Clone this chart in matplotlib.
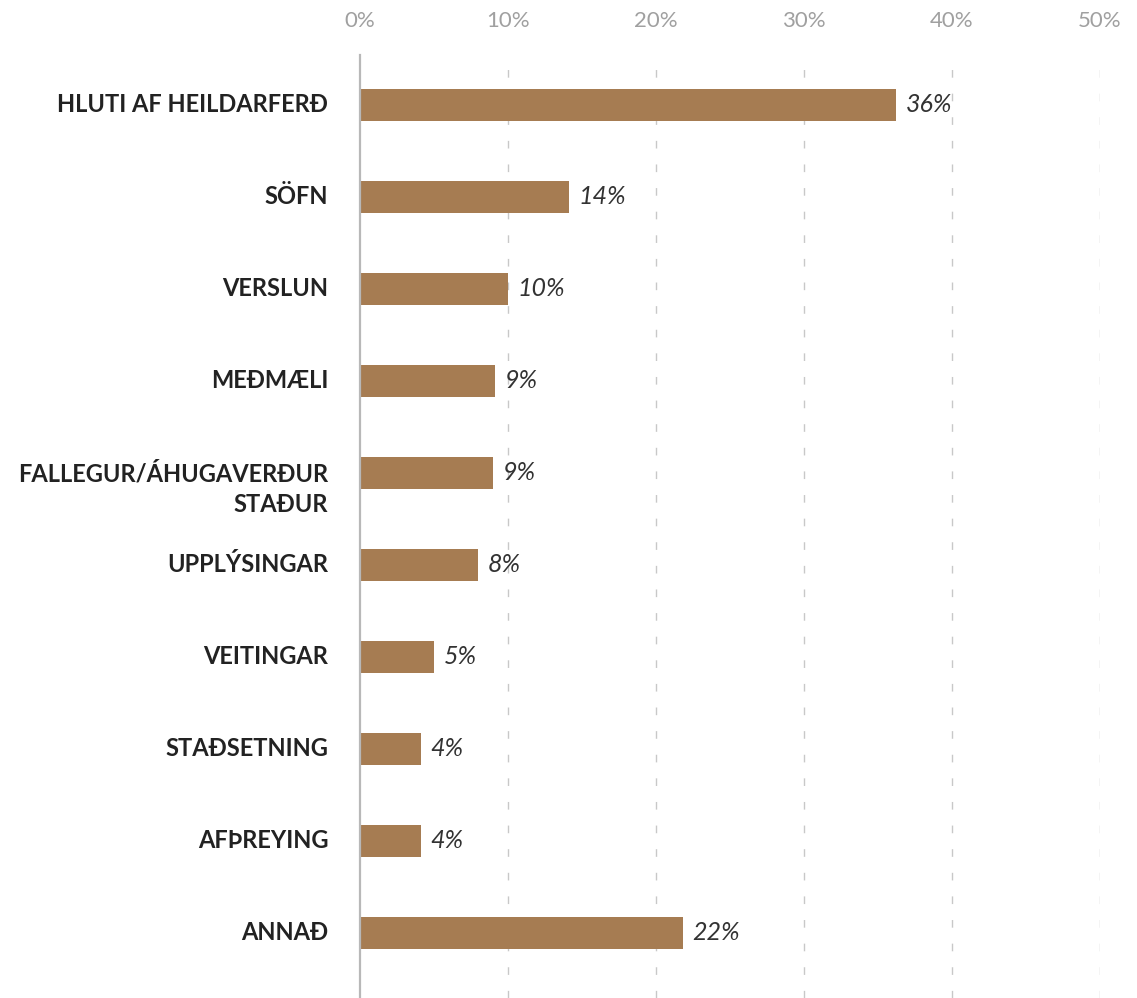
import matplotlib
matplotlib.use("Agg")
import matplotlib.pyplot as plt
import matplotlib.transforms as mtransforms

# Data
categories = [
    "HLUTI AF HEILDARFERÐ",
    "SÖFN",
    "VERSLUN",
    "MEÐMÆLI",
    "FALLEGUR/ÁHUGAVERÐUR\nSTAÐUR",
    "UPPLÝSINGAR",
    "VEITINGAR",
    "STAÐSETNING",
    "AFÞREYING",
    "ANNAÐ",
]
values = [36.2, 14.1, 10.0, 9.1, 9.0, 8.0, 5.0, 4.1, 4.1, 21.8]
value_labels = ["36%", "14%", "10%", "9%", "9%", "8%", "5%", "4%", "4%", "22%"]
xticks = [0, 10, 20, 30, 40, 50]

BAR_COLOR = "#a67c52"
FONT = ["Lato", "DejaVu Sans"]

fig = plt.figure(figsize=(11.37, 9.98), dpi=100)
ax = fig.add_axes([0.3166, 0.0, 0.9675 - 0.3166, 0.9449])

ypos = list(range(len(categories)))
ax.barh(ypos, values, height=0.35, color=BAR_COLOR, zorder=3)

ax.set_xlim(0, 50)
ax.set_ylim(9.707, -0.543)

# grid
for x in xticks[1:]:
    ax.axvline(x, color="#c8c8c8", lw=1.0, dashes=(5.5, 11.5), zorder=1)

# spines
for s in ["top", "right", "bottom"]:
    ax.spines[s].set_visible(False)
ax.spines["left"].set_color("#b8b8b8")
ax.spines["left"].set_linewidth(1.6)
ax.spines["left"].set_zorder(4)

# x ticks on top
ax.xaxis.tick_top()
ax.set_xticks(xticks)
ax.set_xticklabels([f"{x}%" for x in xticks], family=FONT, fontsize=16, color="#a0a0a0")
ax.tick_params(axis="x", length=0, pad=17)
ax.set_yticks([])

# category labels
trans = mtransforms.blended_transform_factory(ax.transAxes, ax.transData)
for i, lab in enumerate(categories):
    shift = 0.174 * lab.count("\n")
    ax.text(-0.043, i + shift, lab, transform=trans, ha="right", va="center",
            family=FONT, fontsize=17, fontweight="bold", color="#222222",
            linespacing=1.35)

# value labels
for i, (v, lab) in enumerate(zip(values, value_labels)):
    ax.annotate(lab, (v, i), xytext=(7, 0), textcoords="offset points",
                ha="left", va="center", family=FONT, fontsize=18,
                style="italic", color="#333333")

fig.savefig("out.png", dpi=100)
